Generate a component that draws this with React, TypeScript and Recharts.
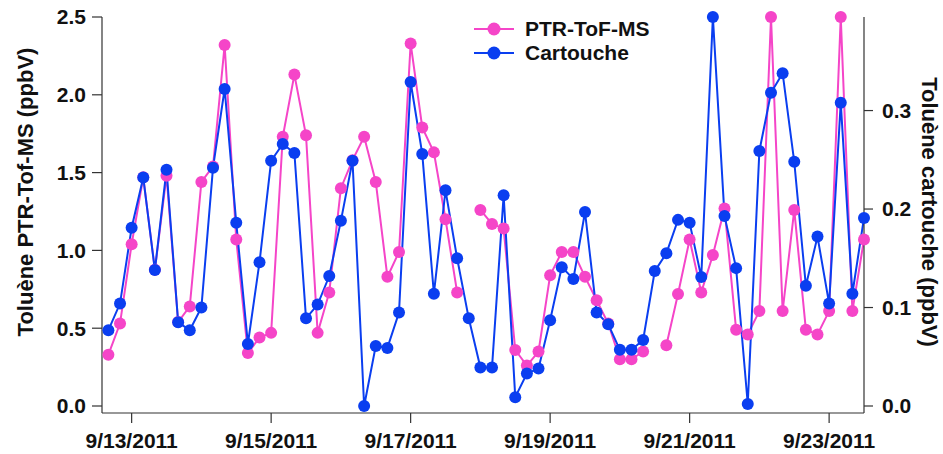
import { LineChart, Line, XAxis, YAxis, Legend } from "recharts";

// Toluène, PTR-ToF-MS (ppbV, left axis) and cartouche (ppbV, right axis), 4-hourly samples
const ptrValues: (number | null)[] = [
  0.33, 0.53, 1.04, 1.47, 0.875, 1.48, 0.54, 0.64, 1.44, 1.54, 2.32, 1.07,
  0.34, 0.44, 0.47, 1.73, 2.13, 1.74, 0.47, 0.73, 1.4, 1.58, 1.73, 1.44,
  0.83, 0.99, 2.33, 1.79, 1.63, 1.2, 0.73, null, 1.26, 1.17, 1.14, 0.36,
  0.26, 0.35, 0.84, 0.99, 0.99, 0.83, 0.68, 0.53, 0.3, 0.3, 0.35, null,
  0.39, 0.72, 1.07, 0.73, 0.97, 1.27, 0.49, 0.46, 0.61, 2.5, 0.61, 1.26,
  0.49, 0.46, 0.61, 2.5, 0.61, 1.07,
];
const cartoucheValues: number[] = [
  0.077, 0.104, 0.181, 0.232, 0.138, 0.24, 0.085, 0.077, 0.1, 0.242, 0.322, 0.186,
  0.063, 0.146, 0.249, 0.266, 0.257, 0.089, 0.103, 0.132, 0.188, 0.249, 0.0, 0.061,
  0.059, 0.095, 0.329, 0.256, 0.114, 0.219, 0.15, 0.089, 0.039, 0.039, 0.214, 0.009,
  0.033, 0.038, 0.087, 0.141, 0.129, 0.197, 0.095, 0.083, 0.057, 0.057, 0.067, 0.137,
  0.155, 0.189, 0.186, 0.131, 0.395, 0.193, 0.14, 0.002, 0.259, 0.318, 0.338, 0.248,
  0.122, 0.172, 0.104, 0.308, 0.114, 0.191,
];

// sample index of midnight for each labelled day
const dateTicks = [2, 14, 26, 38, 50, 62];
const dateLabels = ["9/13/2011", "9/15/2011", "9/17/2011", "9/19/2011", "9/21/2011", "9/23/2011"];
const leftTicks = [0, 0.5, 1, 1.5, 2, 2.5];
const rightTicks = [0, 0.1, 0.2, 0.3];

const PINK = "#f545c8";
const BLUE = "#0a3ef0";
const FONT = "'Liberation Sans', Arial, sans-serif";
const AXIS = "#333";

const data = ptrValues.map((v, i) => ({ i, ptr: v, cartouche: cartoucheValues[i] }));

const tickStyle = { fill: "#111", fontSize: 21, fontWeight: 700, fontFamily: FONT };
const titleStyle = { fontSize: 22, fontWeight: 700, fontFamily: FONT, fill: "#111" };

const LeftTitle = () => (
  <text
    x={25}
    y={192}
    transform="rotate(-90 25 192)"
    textAnchor="middle"
    dominantBaseline="central"
    style={titleStyle}
  >
    Toluène PTR-Tof-MS (ppbV)
  </text>
);

const RightTitle = () => (
  <text
    x={929}
    y={212}
    transform="rotate(90 929 212)"
    textAnchor="middle"
    dominantBaseline="central"
    style={titleStyle}
  >
    Toluène cartouche (ppbV)
  </text>
);

const legendItems = [
  { name: "PTR-ToF-MS", color: PINK },
  { name: "Cartouche", color: BLUE },
];

const LegendBox = () => (
  <div style={{ fontFamily: FONT }}>
    {legendItems.map((it) => (
      <div key={it.name} style={{ display: "flex", alignItems: "center", height: 24 }}>
        <svg width={40} height={20} style={{ display: "block" }}>
          <line x1={0} y1={10} x2={40} y2={10} stroke={it.color} strokeWidth={2} />
          <circle cx={20} cy={10} r={6.5} fill={it.color} />
        </svg>
        <span style={{ marginLeft: 11, fontSize: 21, fontWeight: 700, color: "#111" }}>{it.name}</span>
      </div>
    ))}
  </div>
);

export default function App() {
  return (
    <div style={{ position: "absolute", left: 0, top: 0, background: "#fff" }}>
      <LineChart width={943} height={454} data={data} margin={{ top: 17, right: 0, bottom: 0, left: 0 }}>
        <XAxis
          dataKey="i"
          type="number"
          domain={[-0.55, 65]}
          ticks={dateTicks}
          tickFormatter={(v: number) => dateLabels[dateTicks.indexOf(v)]}
          height={41}
          tickSize={10}
          tickMargin={10}
          tick={tickStyle}
          stroke={AXIS}
          strokeWidth={1.2}
          interval={0}
        />
        <YAxis
          yAxisId="left"
          orientation="left"
          domain={[0, 2.5]}
          ticks={leftTicks}
          tickFormatter={(v: number) => v.toFixed(1)}
          width={102}
          tickSize={10}
          tickMargin={6}
          tick={tickStyle}
          stroke={AXIS}
          strokeWidth={1.2}
          padding={{ top: 0, bottom: 7 }}
          label={<LeftTitle />}
        />
        <YAxis
          yAxisId="right"
          orientation="right"
          domain={[0, 0.395]}
          ticks={rightTicks}
          tickFormatter={(v: number) => v.toFixed(1)}
          width={79}
          tickSize={9}
          tickMargin={9}
          tick={tickStyle}
          stroke={AXIS}
          strokeWidth={1.2}
          padding={{ top: 0, bottom: 7 }}
          label={<RightTitle />}
        />
        <Legend
          layout="vertical"
          align="center"
          verticalAlign="middle"
          content={<LegendBox />}
          wrapperStyle={{ position: "absolute", left: 474, top: 17, width: 220, height: 48 }}
        />
        <Line
          yAxisId="left"
          dataKey="ptr"
          name="PTR-ToF-MS"
          type="linear"
          stroke={PINK}
          strokeWidth={2}
          dot={{ r: 6, fill: PINK, stroke: PINK, strokeWidth: 0 }}
          activeDot={false}
          isAnimationActive={false}
        />
        <Line
          yAxisId="right"
          dataKey="cartouche"
          name="Cartouche"
          type="linear"
          stroke={BLUE}
          strokeWidth={2}
          dot={{ r: 6, fill: BLUE, stroke: BLUE, strokeWidth: 0 }}
          activeDot={false}
          isAnimationActive={false}
        />
      </LineChart>
    </div>
  );
}
